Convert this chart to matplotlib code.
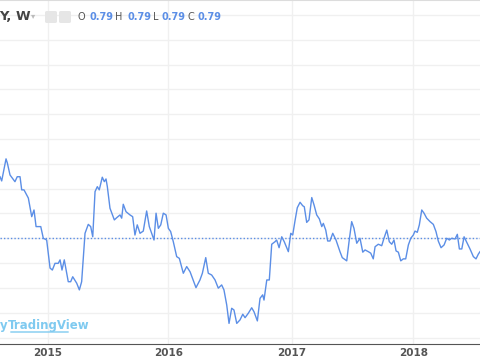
import matplotlib
matplotlib.use("Agg")
import matplotlib.pyplot as plt
from matplotlib.patches import FancyBboxPatch

# weekly close, x as decimal year
t = [2014.605, 2014.619, 2014.655, 2014.666, 2014.688, 2014.729, 2014.748, 2014.771,
     2014.785, 2014.804, 2014.840, 2014.868, 2014.887, 2014.904, 2014.943, 2014.964,
     2014.992, 2015.020, 2015.039, 2015.061, 2015.088, 2015.103, 2015.119, 2015.138,
     2015.171, 2015.191, 2015.208, 2015.241, 2015.263, 2015.282, 2015.310, 2015.337,
     2015.357, 2015.374, 2015.393, 2015.412, 2015.428, 2015.453, 2015.470, 2015.484,
     2015.495, 2015.517, 2015.553, 2015.573, 2015.600,
     2015.614, 2015.627, 2015.650, 2015.683, 2015.705, 2015.724, 2015.743, 2015.766,
     2015.793, 2015.821, 2015.843, 2015.882, 2015.899, 2015.918, 2015.938, 2015.959,
     2015.982, 2016.001, 2016.020, 2016.042, 2016.070, 2016.092, 2016.125, 2016.153,
     2016.181, 2016.230, 2016.263, 2016.283, 2016.311, 2016.332, 2016.360, 2016.388,
     2016.415, 2016.443, 2016.462, 2016.485, 2016.504, 2016.526, 2016.545, 2016.568,
     2016.595,
     2016.618, 2016.637, 2016.664, 2016.692, 2016.711, 2016.739, 2016.761, 2016.783,
     2016.794, 2016.817, 2016.838, 2016.858, 2016.885, 2016.899, 2016.919, 2016.941,
     2016.962, 2016.996, 2017.016, 2017.032, 2017.051, 2017.070, 2017.093, 2017.115,
     2017.128, 2017.148, 2017.167, 2017.190, 2017.209, 2017.231, 2017.253, 2017.273,
     2017.286, 2017.306, 2017.322, 2017.341, 2017.364, 2017.391, 2017.424, 2017.443,
     2017.480, 2017.499, 2017.521, 2017.540, 2017.563, 2017.590,
     2017.613, 2017.632, 2017.659, 2017.679, 2017.700, 2017.715, 2017.742, 2017.770,
     2017.789, 2017.812, 2017.833, 2017.853, 2017.872, 2017.889, 2017.908, 2017.928,
     2017.949, 2017.969, 2017.991, 2018.011, 2018.032, 2018.046, 2018.065, 2018.082,
     2018.102, 2018.121, 2018.143, 2018.171, 2018.198, 2018.220, 2018.239, 2018.262,
     2018.287, 2018.309, 2018.331, 2018.350, 2018.378, 2018.397, 2018.414, 2018.434,
     2018.453, 2018.475, 2018.502, 2018.530, 2018.552, 2018.571, 2018.585]

close = [0.8148, 0.8131, 0.8220, 0.8203, 0.8155, 0.8128, 0.8148, 0.8148,
         0.8095, 0.8095, 0.8062, 0.7987, 0.8014, 0.7947, 0.7947, 0.7900,
         0.7893, 0.7780, 0.7772, 0.7799, 0.7799, 0.7813, 0.7772, 0.7813,
         0.7725, 0.7725, 0.7745, 0.7719, 0.7692, 0.7725, 0.7920, 0.7956,
         0.7947, 0.7906, 0.8088, 0.8108, 0.8095, 0.8146, 0.8128, 0.8139,
         0.8108, 0.8021, 0.7974, 0.7983, 0.7994,
         0.7981, 0.8037, 0.8007, 0.7994, 0.7987, 0.7913, 0.7954, 0.7920,
         0.7929, 0.8010, 0.7947, 0.7893, 0.8001, 0.7940, 0.7954, 0.8001,
         0.7994, 0.7940, 0.7927, 0.7886, 0.7826, 0.7819, 0.7759, 0.7786,
         0.7765, 0.7701, 0.7732, 0.7759, 0.7822, 0.7759, 0.7752, 0.7732,
         0.7699, 0.7712, 0.7692, 0.7631, 0.7557, 0.7618, 0.7611, 0.7557,
         0.7571,
         0.7594, 0.7580, 0.7598, 0.7620, 0.7604, 0.7567, 0.7658, 0.7672,
         0.7651, 0.7732, 0.7732, 0.7876, 0.7886, 0.7893, 0.7862, 0.7906,
         0.7886, 0.7846, 0.7920, 0.7913, 0.7970, 0.8023, 0.8045, 0.8031,
         0.8027, 0.7964, 0.7974, 0.8064, 0.8034, 0.7994, 0.7978, 0.7947,
         0.7960, 0.7933, 0.7889, 0.7889, 0.7920, 0.7893, 0.7846, 0.7822,
         0.7809, 0.7886, 0.7967, 0.7940, 0.7880, 0.7900,
         0.7844, 0.7853, 0.7846, 0.7840, 0.7817, 0.7866, 0.7876, 0.7870,
         0.7900, 0.7933, 0.7886, 0.7876, 0.7893, 0.7849, 0.7844, 0.7809,
         0.7817, 0.7817, 0.7873, 0.7900, 0.7913, 0.7929, 0.7924, 0.7954,
         0.8014, 0.8001, 0.7981, 0.7967, 0.7956, 0.7927, 0.7889, 0.7862,
         0.7873, 0.7900, 0.7893, 0.7900, 0.7897, 0.7916, 0.7857, 0.7857,
         0.7906, 0.7884, 0.7857, 0.7826, 0.7817, 0.7836, 0.7846]

last_price = 0.79
price_grid = [0.75, 0.76, 0.77, 0.78, 0.79, 0.80, 0.81, 0.82, 0.83, 0.84, 0.85, 0.86, 0.87, 0.88]
year_ticks = [2015.0, 2016.0, 2017.024, 2018.032]
year_labels = ["2015", "2016", "2017", "2018"]

blue = "#5b8ee6"
grid_c = "#f0f0f0"

fig = plt.figure(figsize=(4.8, 3.6), dpi=100)
ax = fig.add_axes([0, 16 / 360, 1, 344 / 360])

for g in price_grid:
    ax.axhline(g, color=grid_c, lw=1, zorder=0)
for yt in year_ticks:
    ax.axvline(yt, color=grid_c, lw=1, zorder=0)

ax.axhline(last_price, color=blue, lw=1, ls=(0, (1, 1.5)), zorder=2)
ax.plot(t, close, color=blue, lw=1, zorder=3)

ax.set_xlim(2014.605, 2018.585)
ax.set_ylim(0.7474, 0.8860)
ax.set_yticks([])
ax.set_xticks(year_ticks)
ax.set_xticklabels(year_labels, fontsize=7.5, fontweight="bold", color="#555555")
ax.tick_params(axis="x", length=0, pad=3)
for s in ["left", "right"]:
    ax.spines[s].set_visible(False)
ax.spines["bottom"].set_color("#555555")
ax.spines["top"].set_color("#dcdcdc")

# header
def px(x, y):
    return x / 480, 1 - y / 360

fig.text(*px(-1, 17), "Y, W", fontsize=9.5, fontweight="bold", color="#444444", va="center")
fig.text(*px(31, 16), "\u25be", fontsize=6, color="#bbbbbb", va="center")
for x0 in [45, 59]:
    fig.patches.append(FancyBboxPatch(px(x0, 23), 12 / 480, 12 / 360,
                                      boxstyle="round,pad=0,rounding_size=0.004",
                                      transform=fig.transFigure, fc="#e6e6e6", ec="none"))
items = [("O", 78, "#555555"), ("0.79", 90, blue), ("H", 115, "#555555"), ("0.79", 127, blue),
         ("L", 153, "#555555"), ("0.79", 162, blue), ("C", 187, "#555555"), ("0.79", 198, blue)]
for txt, x0, c in items:
    fig.text(*px(x0, 17), txt, fontsize=7, color=c, va="center",
             fontweight="bold" if c == blue else "normal")

fig.text(*px(0, 326), "y", fontsize=8.5, color="#7fcaf0", va="center", fontweight="bold")
fig.text(*px(8, 326), "TradingView", fontsize=8.5, color="#7fcaf0", va="center",
         fontweight="bold")
ax.annotate("", xy=px(71, 332), xytext=px(8, 332), xycoords="figure fraction",
            arrowprops=dict(arrowstyle="-", color="#7fcaf0", lw=1))

fig.savefig("out.png", dpi=100)
